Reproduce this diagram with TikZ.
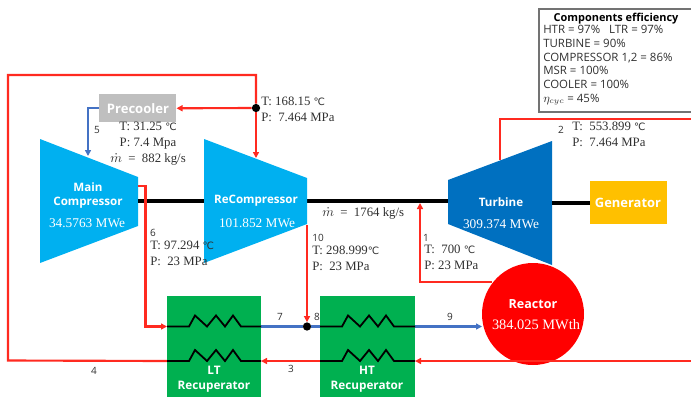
\documentclass[tikz,border=0pt]{standalone}
\usepackage{fontspec}
\setmainfont{Liberation Serif}
\setsansfont{Open Sans}
\newfontfamily\degfont{DejaVu Sans}
\newcommand{\degC}{{\degfont\fontsize{7.6pt}{12pt}\selectfont ℃}}
\usetikzlibrary{arrows.meta}
\definecolor{hotred}{HTML}{FF2A20}
\definecolor{coldblue}{HTML}{4472C4}
\definecolor{compblue}{HTML}{00B0F0}
\definecolor{turbblue}{HTML}{0070C0}
\definecolor{recgreen}{HTML}{00B050}
\definecolor{gengold}{HTML}{FFC000}
\definecolor{coolgray}{HTML}{BFBFBF}
\definecolor{labelgray}{HTML}{303030}
\tikzset{
  x=0.75pt,y=-0.75pt,
  hot/.style={draw=hotred,line width=1.6pt},
  cold/.style={draw=coldblue,line width=1.6pt},
  tip/.style={-{Triangle[length=4.5pt,width=4.5pt]}},
  shaft/.style={draw=black,line width=3.7pt},
  coil/.style={draw=black,line width=1.35pt,line join=miter},
  whitetext/.style={text=white,font=\sffamily\fontsize{8.7pt}{11pt}\selectfont\bfseries,align=center,inner sep=0pt},
  whiteval/.style={text=white,font=\fontsize{10pt}{12pt}\selectfont,align=center,inner sep=0pt},
  statelabel/.style={text=labelgray,font=\fontsize{9.6pt}{12pt}\selectfont,align=left,anchor=north west,inner sep=0pt},
  numlabel/.style={text=labelgray,font=\sffamily\fontsize{7.5pt}{9pt}\selectfont,inner sep=0pt},
  dotnode/.style={circle,fill=black,inner sep=0pt,minimum size=6.2pt},
  boxnode/.style={inner sep=0pt,anchor=north west}
}
\begin{document}
\begin{tikzpicture}
\useasboundingbox (0,0) rectangle (691,397);
% machines
\fill[compblue] (40,139) -- (138,177) -- (138,226) -- (40,263) -- cycle;
\fill[turbblue] (448,180) -- (552,141) -- (552,265) -- (448,224) -- cycle;
\coordinate (mcOut) at (138,186);
\coordinate (mcBend) at (145.5,186);
\coordinate (mcIn) at (88,156);
\coordinate (rcIn) at (256,158);
\coordinate (rcOut) at (307,225);
\coordinate (tbIn) at (420,203);
\coordinate (tbOut) at (500,160);
\coordinate (tbL) at (448,201);
\coordinate (tbR) at (552,203);
\coordinate (outerTL) at (8,75);
\coordinate (outerTR) at (256,75);
\coordinate (outerBL) at (8,360.5);
\coordinate (rightA) at (691,119);
\coordinate (rightB) at (691,361);
\coordinate (shaftL) at (138,201);
% boxes
\node[boxnode,fill=coolgray,minimum width=77pt*0.75,minimum height=28pt*0.75] (pre) at (99,94) {};
\node[boxnode,fill=recgreen,minimum width=94pt*0.75,minimum height=101pt*0.75] (lt) at (167,296) {};
\node[boxnode,fill=recgreen,minimum width=95pt*0.75,minimum height=101pt*0.75] (ht) at (320,296) {};
\node[boxnode,fill=gengold,minimum width=77pt*0.75,minimum height=43pt*0.75] (gen) at (590,181) {};
\node[circle,fill=red,minimum size=102pt*0.75,inner sep=0pt] (reactor) at (533,314) {};
\coordinate (reOut) at (492,282);
\coordinate (ltTL) at (167,326.5);
\coordinate (ltTR) at (261,326.5);
\coordinate (ltBL) at (167,361);
\coordinate (ltBR) at (261,361);
\coordinate (htTL) at (320,326.5);
\coordinate (htTR) at (415,326.5);
\coordinate (htBL) at (320,361);
\coordinate (htBR) at (415,361);
\coordinate (reIn) at (482,326.5);
% shafts
\draw[shaft] (shaftL) -- (tbL);
\draw[shaft] (tbR) -- (gen.west |- tbR);
% recompressor sits over the shaft
\fill[compblue] (204,139) -- (307,178) -- (307,224) -- (204,263) -- cycle;
% junctions
\node[dotnode] (j1) at (256,108) {};
\node[dotnode] (j2) at (307,326.5) {};
% hot lines
\draw[hot] (j1) -- (outerTR) -- (outerTL) -- (outerBL) -- (ltBL);
\draw[hot,tip] (j1) -- (rcIn);
\draw[hot,tip] (j1) -- (pre.east);
\draw[hot,tip] (mcOut) -- (mcBend) |- (ltTL);
\draw[hot,tip] (rcOut) -- (j2);
\draw[hot,tip] (reOut) -- (reOut -| tbIn) -- (tbIn);
\draw[hot] (tbOut) |- (rightA);
\draw[hot,tip] (rightB) -- (htBR);
\draw[hot,tip] (htBL) -- (ltBR);
% cold lines
\draw[cold,tip] (pre.west) -| (mcIn);
\draw[cold] (ltTR) -- (j2) -- (htTL);
\draw[cold,tip] (htTR) -- (reIn);
% coils
\draw[coil] (ltTL) -- (189,326.5) -- (195,315.5) -- (207,326.5) -- (216,315.5) -- (225,326.5) -- (233,315.5) -- (241,326.5) -- (ltTR);
\draw[coil] (ltBL) -- (189,361) -- (195,350) -- (207,361) -- (216,350) -- (225,361) -- (233,350) -- (241,361) -- (ltBR);
\draw[coil] (htTL) -- (342,326.5) -- (348,315.5) -- (360,326.5) -- (369,315.5) -- (378,326.5) -- (386,315.5) -- (394,326.5) -- (htTR);
\draw[coil] (htBL) -- (342,361) -- (348,350) -- (360,361) -- (369,350) -- (378,361) -- (386,350) -- (394,361) -- (htBR);
% machine text
\node[whitetext,font=\sffamily\fontsize{9.8pt}{12pt}\selectfont\bfseries] (preT) at (138,109) {Precooler};
\node[whitetext] (mcT) at (88,195.5) {Main\\Compressor};
\node[whiteval] (mcV) at (87,223) {34.5763 MWe};
\node[whitetext] (rcT) at (256,201) {ReCompressor};
\node[whiteval] (rcV) at (257,223) {101.852 MWe};
\node[whitetext] (tbT) at (501,202) {Turbine};
\node[whiteval] (tbV) at (501,224) {309.374 MWe};
\node[whitetext,font=\sffamily\fontsize{9.7pt}{12pt}\selectfont\bfseries] (genT) at (628,203) {Generator};
\node[whitetext,font=\sffamily\fontsize{9.4pt}{12pt}\selectfont\bfseries] (reT) at (533,304) {Reactor};
\node[whiteval,font=\fontsize{10.8pt}{12pt}\selectfont] (reV) at (536,325) {384.025 MWth};
\node[whitetext,font=\sffamily\fontsize{8.8pt}{11.2pt}\selectfont\bfseries] (ltT) at (214,379) {LT\\Recuperator};
\node[whitetext,font=\sffamily\fontsize{8.8pt}{11.2pt}\selectfont\bfseries] (htT) at (367,379) {HT\\Recuperator};
% state labels
\node[statelabel] (s0) at (261,96.5) {T: 168.15 \degC\\P:\ \ 7.464 MPa};
\node[statelabel,align=center,anchor=north] (s5) at (148,121.5) {T: 31.25 \degC\\P: 7.4 Mpa\\$\dot{m}$\ \ =\ \ 882 kg/s};
\node[statelabel] (s6) at (150,241) {T: 97.294 \degC\\P:\ \ 23 MPa};
\node[statelabel] (s10) at (312,246) {T: 298.999\degC\\P:\ \ 23 MPa};
\node[statelabel] (s1) at (424,245) {T:\ \ 700 \degC\\P: 23 MPa};
\node[statelabel] (s2) at (572,122) {T:\ \ 553.899 \degC\\P:\ \ 7.464 MPa};
\node[statelabel] (sm) at (322,207) {$\dot{m}$\ \ =\ \ 1764 kg/s};
% numbers
\node[numlabel] (n5) at (97,130) {5};
\node[numlabel] (n6) at (153,233) {6};
\node[numlabel] (n10) at (318,238) {10};
\node[numlabel] (n1) at (426,238) {1};
\node[numlabel] (n2) at (561,130) {2};
\node[numlabel] (n7) at (280,317) {7};
\node[numlabel] (n8) at (317,317) {8};
\node[numlabel] (n9) at (450,317) {9};
\node[numlabel] (n3) at (291,369) {3};
\node[numlabel] (n4) at (94,371) {4};
% efficiency box
\node[draw=black!55,line width=1.5pt,fill=white,boxnode,minimum width=156pt*0.75,minimum height=103pt*0.75] (eff) at (538,8) {};
\node[anchor=north,inner sep=0pt,font=\sffamily\fontsize{8.2pt}{10pt}\selectfont\bfseries,text=black] (effT) at (616,13) {Components efficiency};
\node[anchor=north west,inner sep=0pt,align=left,text=labelgray,font=\sffamily\fontsize{8.6pt}{10.3pt}\selectfont] (effB) at (543,25) {HTR = 97\%\ \ \ LTR = 97\%\\TURBINE = 90\%\\COMPRESSOR 1,2 = 86\%\\MSR = 100\%\\COOLER = 100\%\\$\eta_{cyc}$ = 45\%};
\end{tikzpicture}
\end{document}
